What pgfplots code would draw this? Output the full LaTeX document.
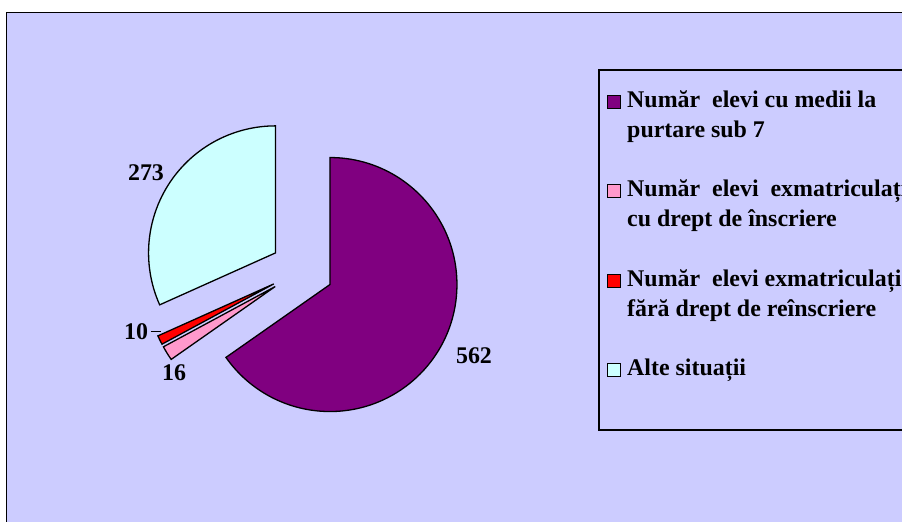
\documentclass[border=0pt]{standalone}
\usepackage{pgfplots}
\pgfplotsset{compat=1.18}
\usepackage{fontspec}
\setmainfont{Liberation Serif}
\definecolor{bgl}{HTML}{CCCCFF}
\definecolor{pieP}{HTML}{800080}
\definecolor{pieK}{HTML}{FF99CC}
\definecolor{pieR}{HTML}{FF0000}
\definecolor{pieC}{HTML}{CCFFFF}
% values
\def\vA{562}\def\vB{16}\def\vC{10}\def\vD{273}
\pgfmathsetmacro\tot{\vA+\vB+\vC+\vD}
\pgfmathsetmacro\aA{90}
\pgfmathsetmacro\aB{\aA-\vA/\tot*360}
\pgfmathsetmacro\aC{\aB-\vB/\tot*360}
\pgfmathsetmacro\aD{\aC-\vC/\tot*360}
\pgfmathsetmacro\aE{\aD-\vD/\tot*360}
\newcommand\swatch[1]{{\setlength\fboxsep{0pt}\setlength\fboxrule{1bp}\fcolorbox{black}{#1}{\rule{0pt}{12bp}\rule{12bp}{0pt}}}\hspace{6bp}}
\newcommand\entry[3]{\swatch{#1}\begin{tabular}[t]{@{}l@{}}#2\\#3\end{tabular}}
\begin{document}
\begin{tikzpicture}
\begin{axis}[
  width=902bp, height=522bp, scale only axis,
  xmin=0, xmax=902, ymin=0, ymax=522,
  hide axis, clip=false,
]
\coordinate (BL) at (axis cs:0,0);
\coordinate (TR) at (axis cs:902,522);
\fill[white] (axis cs:0,0) rectangle (axis cs:902,522);
\filldraw[fill=bgl, draw=black, line width=1.3bp] (axis cs:910,-10) -- (axis cs:6.5,-10) -- (axis cs:6.5,509.5) -- (axis cs:910,509.5);
% slices
\filldraw[fill=pieP, draw=black, line width=1.3bp] (axis cs:302,252) ++({(\aA+\aB)/2}:31.5bp) -- ++(\aA:127bp) arc[start angle=\aA, end angle=\aB, radius=127bp] -- cycle;
\filldraw[fill=pieK, draw=black, line width=1.3bp] (axis cs:302,252) ++({(\aB+\aC)/2}:31.5bp) -- ++(\aB:127bp) arc[start angle=\aB, end angle=\aC, radius=127bp] -- cycle;
\filldraw[fill=pieR, draw=black, line width=1.3bp] (axis cs:302,252) ++({(\aC+\aD)/2}:31.5bp) -- ++(\aC:127bp) arc[start angle=\aC, end angle=\aD, radius=127bp] -- cycle;
\filldraw[fill=pieC, draw=black, line width=1.3bp] (axis cs:302,252) ++({(\aD+\aE)/2}:31.5bp) -- ++(\aD:127bp) arc[start angle=\aD, end angle=\aE, radius=127bp] -- cycle;
% labels
\begin{scope}[every node/.style={font=\fontsize{24}{30}\selectfont\bfseries, inner sep=0pt}]
\node at (axis cs:474,166) {\vA};
\node at (axis cs:174,149.5) {\vB};
\node at (axis cs:136,190) {\vC};
\node at (axis cs:146,349.5) {\vD};
\end{scope}
\draw[black, line width=0.9bp] (axis cs:150.5,191) -- (axis cs:160.5,191);
% legend
\filldraw[fill=bgl, draw=black, line width=1.2bp] (axis cs:599,452) rectangle (axis cs:920,92);
\begin{scope}[every node/.style={font=\fontsize{24}{30}\selectfont\bfseries, inner sep=0pt, anchor=base west}]
\node at (axis cs:607,414) {\entry{pieP}{Număr~ elevi cu medii la}{purtare sub 7}};
\node at (axis cs:607,325) {\entry{pieK}{Număr~ elevi~ exmatriculați}{cu drept de înscriere}};
\node at (axis cs:607,235) {\entry{pieR}{Număr~ elevi exmatriculați}{fără drept de reînscriere}};
\node at (axis cs:607,146) {\swatch{pieC}Alte situații};
\end{scope}
\end{axis}
\pgfresetboundingbox
\path (BL) rectangle (TR);
\end{tikzpicture}
\end{document}
